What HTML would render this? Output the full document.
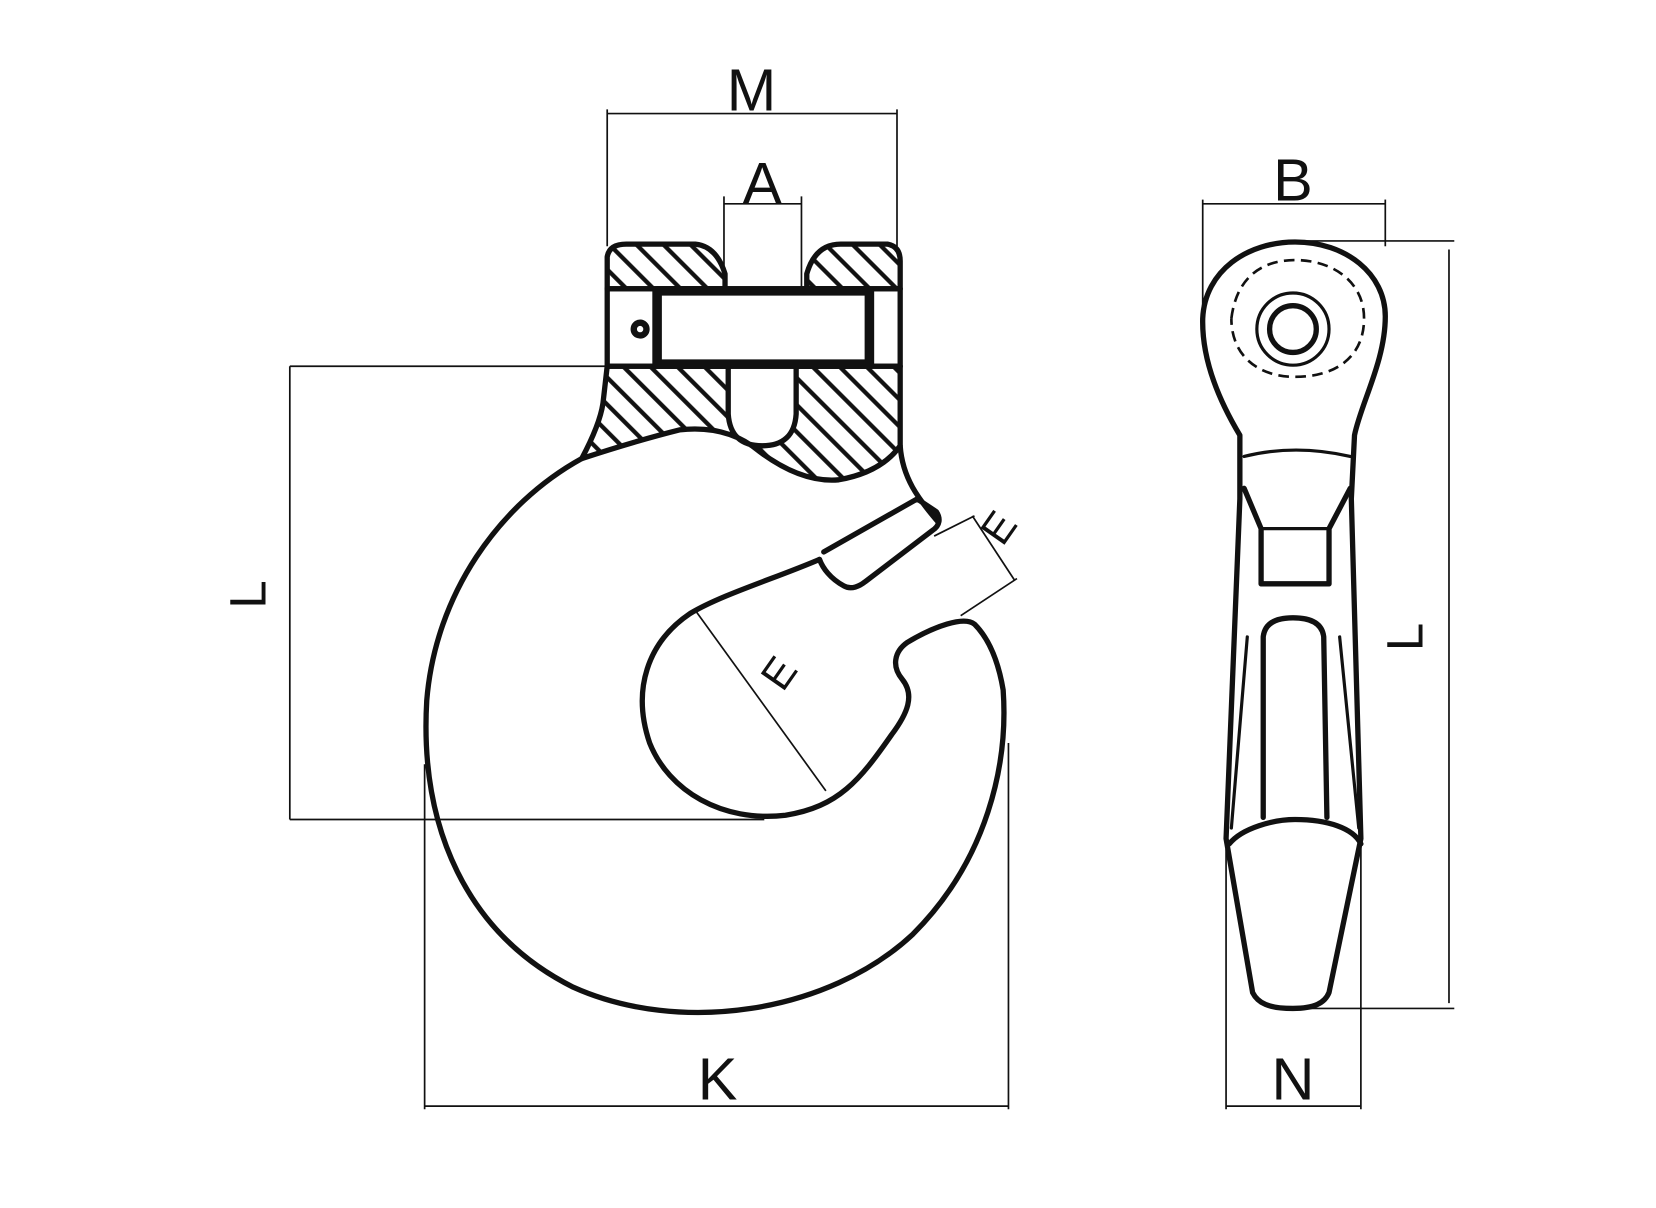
<!DOCTYPE html>
<html><head><meta charset="utf-8"><style>html,body{margin:0;padding:0;background:#fff}svg{display:block}</style></head>
<body>
<svg width="1656" height="1208" viewBox="0 0 1560 1138" xmlns="http://www.w3.org/2000/svg">
<defs>
<pattern id="h" patternUnits="userSpaceOnUse" width="18" height="18" patternTransform="rotate(-45)">
<line x1="9" y1="-2" x2="9" y2="20" stroke="#111" stroke-width="4"/>
</pattern>
</defs>
<rect width="1560" height="1138" fill="#fff"/>
<g fill="none" stroke="#111" stroke-width="1.6">
<line x1="572" y1="107" x2="845" y2="107"/>
<line x1="572" y1="103" x2="572" y2="232"/>
<line x1="845" y1="103" x2="845" y2="232"/>
<line x1="682" y1="192" x2="755" y2="192"/>
<line x1="682" y1="185" x2="682" y2="270"/>
<line x1="755" y1="185" x2="755" y2="270"/>
<line x1="273" y1="345" x2="570" y2="345"/>
<line x1="273" y1="772" x2="720" y2="772"/>
<line x1="273" y1="345" x2="273" y2="772"/>
<line x1="400" y1="1042" x2="950" y2="1042"/>
<line x1="400" y1="720" x2="400" y2="1045"/>
<line x1="950" y1="700" x2="950" y2="1045"/>
<line x1="655" y1="575" x2="778" y2="745"/>
<line x1="880" y1="505" x2="918" y2="486"/>
<line x1="905" y1="580" x2="958" y2="545"/>
<line x1="916" y1="486" x2="956" y2="547"/>
<line x1="1133" y1="192" x2="1305" y2="192"/>
<line x1="1133" y1="188" x2="1133" y2="290"/>
<line x1="1305" y1="188" x2="1305" y2="232"/>
<line x1="1230" y1="227" x2="1370" y2="227"/>
<line x1="1230" y1="950" x2="1370" y2="950"/>
<line x1="1365" y1="235" x2="1365" y2="945"/>
<line x1="1155" y1="1042" x2="1282" y2="1042"/>
<line x1="1155" y1="800" x2="1155" y2="1045"/>
<line x1="1282" y1="780" x2="1282" y2="1045"/>
</g>
<g font-family="Liberation Sans, sans-serif" font-size="56" fill="#111" text-anchor="middle" font-weight="normal">
<text x="708" y="104" textLength="38">M</text>
<text x="718" y="192">A</text>
<text x="1218" y="189">B</text>
<text x="676" y="1036">K</text>
<text x="1218" y="1036">N</text>
<text transform="translate(250,560) rotate(-90)" font-size="48">L</text>
<text transform="translate(1340,600) rotate(-90)" font-size="48">L</text>
<text transform="translate(745,642) rotate(-55)" font-size="40">E</text>
<text transform="translate(952,505) rotate(-55)" font-size="40">E</text>
</g>
<g fill="url(#h)" stroke="#111" stroke-width="5" stroke-linejoin="round">
<path d="M572,272 L572,242 Q574,230 590,230 L655,230 Q675,232 683,258 L683,272 Z"/>
<path d="M760,272 L760,258 Q768,230 792,230 L836,230 Q848,232 848,246 L848,272 Z"/>
<path d="M572,345 L686,345 L686,390 Q688,420 718,420 Q748,420 750,390 L750,345 L848,345 L848,420 Q830,445 790,452 Q755,455 715,425 Q685,400 640,405 Q600,415 548,432 Q565,400 568,380 Z"/>
</g>
<g fill="none" stroke="#111" stroke-width="5" stroke-linejoin="round" stroke-linecap="round">
<line x1="572" y1="272" x2="572" y2="345"/>
<line x1="848" y1="272" x2="848" y2="345"/>
<line x1="572" y1="272" x2="848" y2="272"/>
<line x1="572" y1="345" x2="848" y2="345"/>
<rect x="619" y="274" width="200" height="69" stroke-width="9"/>
<circle cx="603" cy="310" r="6" stroke-width="6"/>
<path d="M548,432 C470,475 410,560 402,660 C395,780 440,880 540,930 C640,975 780,955 860,880 C930,810 950,720 945,650 C940,620 930,600 918,588 C908,580 880,590 855,605 C842,614 840,628 850,640 C862,655 855,672 840,692 C810,735 790,760 740,768 C680,775 630,745 612,700 C595,650 610,605 650,578 C680,560 730,545 772,527"/>
<path d="M848,420 C850,450 865,470 884,492"/>
<path d="M772,527 C775,535 782,545 795,552 C802,556 810,552 815,548 L878,500 C886,495 886,488 882,482 L864,470 L776,520"/>
<path d="M1168,410 C1150,380 1132,340 1133,300 C1135,255 1175,228 1220,228 C1268,228 1305,258 1305,298 C1305,340 1282,380 1276,410 L1273,470 L1282,790 L1252,935 C1248,945 1238,950 1218,950 C1195,950 1185,945 1180,935 L1155,790 L1168,470 Z"/>
<circle cx="1218" cy="310" r="22"/>
<circle cx="1218" cy="310" r="34" stroke-width="3"/>
<path d="M1172,430 Q1220,418 1272,430" stroke-width="3"/>
<path d="M1172,460 L1188,498 L1188,550 L1252,550 L1252,498 L1272,460"/>
<path d="M1190,498 L1250,498" stroke-width="3"/>
<path d="M1190,770 L1190,600 Q1192,582 1218,582 Q1245,582 1247,600 L1250,770"/>
<path d="M1175,600 L1160,780 M1262,600 L1280,780" stroke-width="3"/>
<path d="M1158,795 C1170,780 1200,772 1220,772 C1250,772 1275,780 1282,795"/>
</g>
<g fill="none" stroke="#111" stroke-width="2.5" stroke-dasharray="10,6">
<path d="M1160,300 C1165,260 1190,245 1220,245 C1255,245 1285,265 1285,300 C1285,335 1260,355 1220,355 C1185,355 1160,335 1160,300"/>
</g>
</svg>
</body></html>
